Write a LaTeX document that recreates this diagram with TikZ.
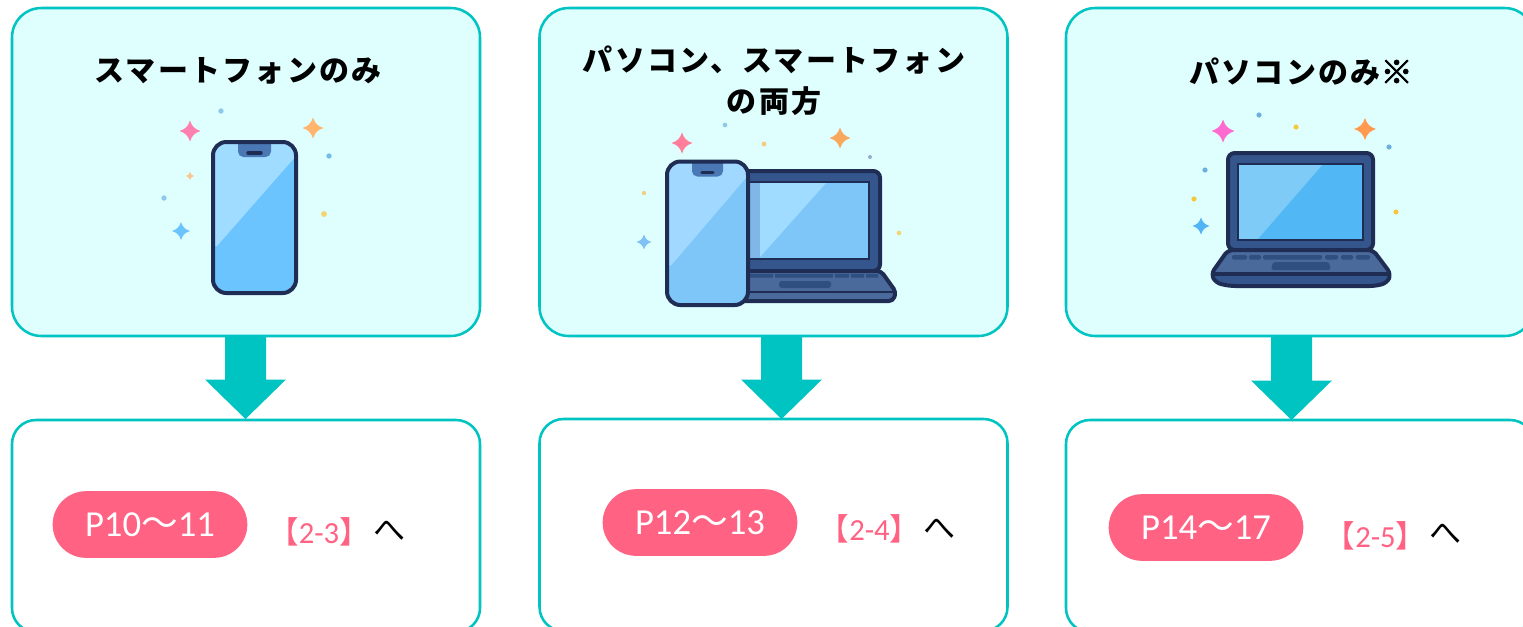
\documentclass[tikz,border=0pt]{standalone}
\usepackage{fontspec}
\usetikzlibrary{calc,shapes.misc}
\newfontfamily\cjkfont{Noto Sans CJK JP}
\newfontfamily\cjktitle[LetterSpace=7.5]{Noto Sans CJK JP}
\newfontfamily\cjkheavy[FakeBold=2.5]{Noto Sans CJK JP}
\newfontfamily\latinfont{Carlito}
\definecolor{tealline}{HTML}{00C4C2}
\definecolor{cardfill}{HTML}{DFFFFF}
\definecolor{pinkish}{HTML}{FF6282}
\definecolor{navy}{HTML}{1F2D55}
\definecolor{lidblue}{HTML}{34568C}
\definecolor{baseblue}{HTML}{4A6A9C}
\definecolor{keyblue}{HTML}{2F4F80}
\definecolor{notchblue}{HTML}{4A78B4}
\definecolor{HTMLa}{HTML}{FF7FB0}
\definecolor{HTMLb}{HTML}{FFB56B}
\definecolor{HTMLc}{HTML}{F8C68F}
\definecolor{HTMLd}{HTML}{6CC4FF}
\definecolor{HTMLe}{HTML}{8CC8EA}
\definecolor{HTMLf}{HTML}{70BEE8}
\definecolor{HTMLg}{HTML}{F2D472}
\definecolor{HTMLh}{HTML}{A0DCFF}
\definecolor{HTMLi}{HTML}{7FC6F8}
\definecolor{HTMLj}{HTML}{7FB8E8}
\definecolor{HTMLk}{HTML}{A0D8FF}
\definecolor{HTMLl}{HTML}{FF7F9B}
\definecolor{HTMLm}{HTML}{F8A85C}
\definecolor{HTMLn}{HTML}{7FC0F5}
\definecolor{HTMLo}{HTML}{F2CE80}
\definecolor{HTMLp}{HTML}{90B0CC}
\definecolor{HTMLq}{HTML}{FF6AD0}
\definecolor{HTMLr}{HTML}{FF9A50}
\definecolor{HTMLs}{HTML}{50B4F5}
\definecolor{HTMLt}{HTML}{6CB0E0}
\definecolor{HTMLu}{HTML}{F5C840}
\definecolor{HTMLv}{HTML}{52B8F5}
\definecolor{HTMLw}{HTML}{7FCBF8}
\tikzset{
  card/.style={draw=tealline,line width=1.9pt,fill=cardfill,rounded corners=22pt,minimum width=351pt,minimum height=246pt},
  result/.style={draw=tealline,line width=1.9pt,fill=white,rounded corners=18pt,minimum width=351pt,minimum height=159pt},
  titletext/.style={font=\cjktitle\bfseries\fontsize{22.5}{30.5}\selectfont,text=black,align=center,inner sep=0pt},
  pill/.style={rounded rectangle,fill=pinkish,text=white,minimum width=146pt,minimum height=50pt,inner sep=0pt,font=\fontsize{27.5}{30}\selectfont},
  ref/.style={text=pinkish,inner sep=0pt,font=\fontsize{23}{26}\selectfont},
  hetext/.style={text=black,inner sep=0pt,font=\cjkfont\fontsize{24}{26}\selectfont},
  blockfill/.style={fill=tealline},
  iconline/.style={draw=navy,line width=3pt,line join=round}
}
\newcommand{\lat}[1]{{\latinfont #1}}
\newcommand{\wave}{{\cjkfont 〜}}
\newcommand{\blockarrow}[2]{%
  \fill[blockfill] ($(#1)+(-20.5,0)$) -- ($(#1)+(20.5,0)$) -- ($(#2)+(20.5,-39.5)$) -- ($(#2)+(40.5,-39.5)$)
    -- (#2) -- ($(#2)+(-40.5,-39.5)$) -- ($(#2)+(-20.5,-39.5)$) -- cycle;}
\newcommand{\sparkle}[4]{%
  \fill[#4] (#1,#2-#3) .. controls (#1+.2*#3,#2-.42*#3) and (#1+.42*#3,#2-.2*#3) .. (#1+#3,#2)
   .. controls (#1+.42*#3,#2+.2*#3) and (#1+.2*#3,#2+.42*#3) .. (#1,#2+#3)
   .. controls (#1-.2*#3,#2+.42*#3) and (#1-.42*#3,#2+.2*#3) .. (#1-#3,#2)
   .. controls (#1-.42*#3,#2-.2*#3) and (#1-.2*#3,#2-.42*#3) .. (#1,#2-#3) -- cycle;}
\newcommand{\speck}[4]{\fill[#4] (#1,#2) circle[radius=#3];}
% phone: left top right bottom lightcolour maincolour
\newcommand{\phoneicon}[6]{%
  \begin{scope}
  \path[fill=#6,rounded corners=10pt] (#1,#2) rectangle (#3,#4);
  \begin{scope}
    \clip[rounded corners=10pt] (#1,#2) rectangle (#3,#4);
    \fill[#5] (#1,#2) -- (#3,#2) -- (#3,#2+14) -- (#1+4,#2+104) -- (#1,#2+104) -- cycle;
    \fill[notchblue,rounded corners=4pt] (#1+25,#2-6) -- (#3-25,#2-6) -- (#3-25,#2+15) -- (#1+25,#2+15) -- cycle;
    \draw[navy,line width=2.6pt,line cap=round] (#1+35,#2+11) -- (#3-35,#2+11);
  \end{scope}
  \draw[iconline,rounded corners=10pt] (#1,#2) rectangle (#3,#4);
  \end{scope}}
\begin{document}
\begin{tikzpicture}[x=0.75pt,y=-0.75pt]
\path[use as bounding box,clip] (0,0) rectangle (1523,626);
\fill[white] (0,0) rectangle (1523,626);
% cards
\node[card] (c1) at (246,172) {};
\node[card] (c2) at (773.5,172) {};
\node[card] (c3) at (1300,172) {};
\node[result] (r1) at (246,526) {};
\node[result] (r2) at (773.5,525) {};
\node[result] (r3) at (1300,526) {};
% arrows
\coordinate (a1) at (245.5,336); \coordinate (b1) at (245.5,419);
\coordinate (a2) at (781.5,336); \coordinate (b2) at (781.5,419);
\coordinate (a3) at (1291.5,336); \coordinate (b3) at (1291.5,420);
\blockarrow{a1}{b1}\blockarrow{a2}{b2}\blockarrow{a3}{b3}
% titles
\node[titletext] (t1) at (238,71) {スマートフォンのみ};
\node[titletext] (t2) at (774,81) {パソコン、スマートフォン\\の両方};
\node[titletext] (t3) at (1301,72) {パソコンのみ{\cjkheavy\fontsize{24}{30}\selectfont ※}};
% pills
\node[pill] (p1) at (150,524.5) {\lat{P10}\wave\lat{11}};
\node[pill] (p2) at (700,522.5) {\lat{P12}\wave\lat{13}};
\node[pill] (p3) at (1206,527.5) {\lat{P14}\wave\lat{17}};
\node[ref] (f1) at (319,532) {{\cjkfont 【}\lat{2-3}{\cjkfont 】}};
\node[ref] (f2) at (869.5,529) {{\cjkfont 【}\lat{2-4}{\cjkfont 】}};
\node[ref] (f3) at (1375.5,536) {{\cjkfont 【}\lat{2-5}{\cjkfont 】}};
\node[hetext] (h1) at (389.5,531) {へ};
\node[hetext] (h2) at (939.5,529) {へ};
\node[hetext] (h3) at (1445.5,534) {へ};
% icon 1
\sparkle{190}{131}{10.5}{HTMLa}
\sparkle{313}{128}{10.5}{HTMLb}
\sparkle{190}{176}{4}{HTMLc}
\sparkle{181}{231}{9}{HTMLd}
\speck{221}{111}{2.7}{HTMLe}\speck{329}{156}{2.7}{HTMLf}\speck{164}{198}{2.7}{HTMLe}\speck{324}{214}{3}{HTMLg}
\phoneicon{213}{142}{296}{293}{HTMLh}{HTMLd}
% icon 2 laptop
\fill[lidblue,rounded corners=5pt] (730,171) rectangle (880,271);
\draw[iconline,rounded corners=5pt] (730,171) rectangle (880,271);
\fill[HTMLi] (735,183) rectangle (868,259);
\fill[HTMLj] (735,183) rectangle (760,259);
\fill[HTMLh] (760,183) -- (826,183) -- (760,257) -- cycle;
\draw[navy,line width=2.2pt] (735,182) -- (869,182) -- (869,259) -- (735,259);
\fill[baseblue,rounded corners=3pt] (745,271) -- (881,271) -- (896,292) -- (893,301) -- (745,301) -- cycle;
\draw[iconline,rounded corners=3pt] (745,271) -- (881,271) -- (896,292) -- (893,301) -- (745,301);
\draw[navy,line width=2.2pt] (745,292) -- (893,292);
\fill[keyblue] (750,274) rectangle (773,277.5) (775,274) rectangle (833,277.5) (835,274) rectangle (849,277.5) (851,274) rectangle (864,277.5) (866,274) rectangle (878,277.5);
\fill[keyblue,rounded corners=2pt] (779,281) rectangle (831,288);
\phoneicon{667}{161.5}{748}{305}{HTMLk}{HTMLi}
\sparkle{682}{143}{10.5}{HTMLl}
\sparkle{840}{138}{10.5}{HTMLm}
\sparkle{644}{242}{7.5}{HTMLn}
\speck{725}{125}{2.3}{HTMLe}\speck{764}{144}{2.5}{HTMLo}\speck{870}{157}{2}{HTMLp}\speck{644}{193}{2.2}{HTMLo}\speck{899}{233}{2.3}{HTMLg}
% icon 3 laptop
\sparkle{1223}{131}{11.5}{HTMLq}
\sparkle{1365}{129}{11}{HTMLr}
\sparkle{1201}{226}{8.5}{HTMLs}
\speck{1259}{115}{2.6}{HTMLt}\speck{1296}{127}{2.6}{HTMLu}\speck{1389}{147}{2.6}{HTMLt}\speck{1205}{170}{2.6}{HTMLt}\speck{1194}{199}{2.6}{HTMLu}\speck{1396}{212}{2.6}{HTMLu}
\fill[lidblue,rounded corners=5pt] (1228,153) rectangle (1373,250);
\draw[iconline,rounded corners=5pt] (1228,153) rectangle (1373,250);
\fill[HTMLv] (1238,164) rectangle (1363,240);
\fill[HTMLw] (1238,164) -- (1323,164) -- (1257,240) -- (1238,240) -- cycle;
\draw[navy,line width=2.2pt] (1238,164) rectangle (1363,240);
\fill[baseblue,rounded corners=4pt] (1228,250) -- (1211,274) -- (1216,283) -- (1230,286) -- (1375,286) -- (1387,283) -- (1391,274) -- (1373,250) -- cycle;
\fill[lidblue] (1214,274) -- (1388,274) -- (1385,283) -- (1373,285) -- (1230,285) -- (1218,283) -- cycle;
\draw[iconline,rounded corners=4pt] (1228,250) -- (1211,274) -- (1216,283) -- (1230,286) -- (1375,286) -- (1387,283) -- (1391,274) -- (1373,250) -- cycle;
\draw[navy,line width=2.5pt] (1212,274) -- (1390,274);
\fill[keyblue,rounded corners=1pt] (1232,255) rectangle (1247,259.5) (1249,255) rectangle (1261,259.5) (1263,255) rectangle (1322,259.5) (1325,255) rectangle (1338,259.5) (1341,255) rectangle (1353,259.5) (1356,255) rectangle (1370,259.5);
\fill[keyblue,rounded corners=2pt] (1273,262) -- (1329,262) -- (1331,270) -- (1271,270) -- cycle;
\end{tikzpicture}
\end{document}
